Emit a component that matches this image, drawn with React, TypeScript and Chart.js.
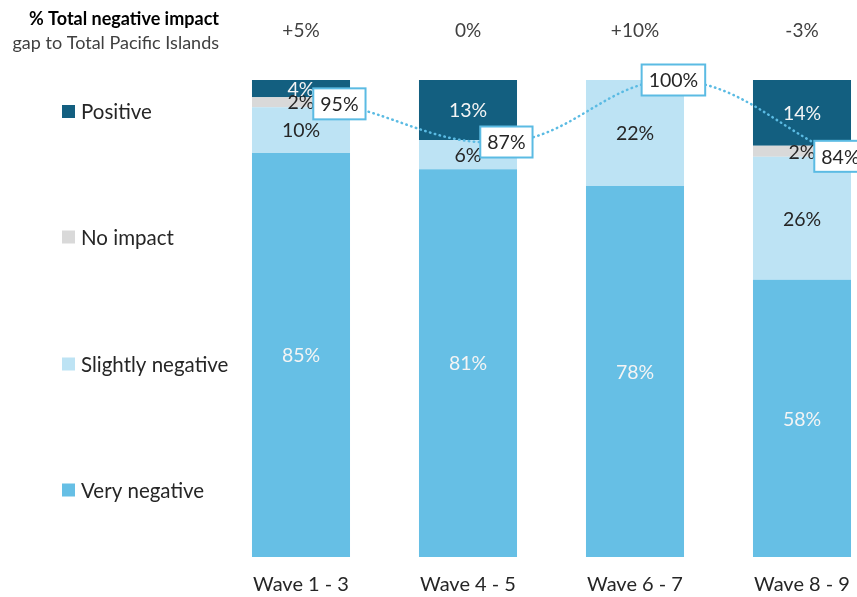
import { useEffect, useRef } from 'react';
import { Chart, registerables } from 'chart.js';

Chart.register(...registerables);

const CATEGORIES = ['Wave 1 - 3', 'Wave 4 - 5', 'Wave 6 - 7', 'Wave 8 - 9'];
const VERY_NEGATIVE = [84.7, 81.3, 77.8, 58.1];
const SLIGHTLY_NEGATIVE = [9.6, 6.1, 22.2, 25.8];
const NO_IMPACT = [2.1, 0, 0, 2.3];
const POSITIVE = [3.6, 12.6, 0, 13.8];
const TOTAL_NEGATIVE = [95, 87, 100, 84];
const GAP_LABELS = ['+5%', '0%', '+10%', '-3%'];
const LEGEND_ITEMS = ['Positive', 'No impact', 'Slightly negative', 'Very negative'];

const C_VERY = '#66bfe5';
const C_SLIGHT = '#bde3f4';
const C_NONE = '#d9d9d9';
const C_POS = '#135f80';
const C_LINE = '#5bbbe3';
const DARK = '#262626';
const LIGHT = '#f4f4f4';
const FONT = 'Lato, "Open Sans", sans-serif';
const LINE_SHIFT = 0.23;

const LEGEND_COLORS: Record<string, string> = {
  'Positive': C_POS,
  'No impact': C_NONE,
  'Slightly negative': C_SLIGHT,
  'Very negative': C_VERY,
};
const LEGEND_Y = [111.5, 237, 364, 490];

const overlayPlugin = {
  id: 'overlay',
  beforeDatasetDraw(chart: any, args: any) {
    if (args.index !== 0) return;
    const ctx = chart.ctx;
    ctx.save();
    ctx.font = `19.5px ${FONT}`;
    ctx.textAlign = 'center';
    ctx.textBaseline = 'middle';
    chart.data.datasets.forEach((ds: any, di: number) => {
      const meta = chart.getDatasetMeta(di);
      if (meta.type !== 'bar') return;
      ctx.fillStyle = ds.labelColor;
      meta.data.forEach((el: any, i: number) => {
        const v = ds.data[i];
        if (!v || v < 1) return;
        ctx.fillText(`${Math.round(v)}%`, el.x, (el.y + el.base) / 2 + 1);
      });
    });
    ctx.restore();
  },
  afterDatasetsDraw(chart: any) {
    const ctx = chart.ctx;
    const lineMeta = chart.getDatasetMeta(0);
    ctx.save();
    ctx.font = `19.5px ${FONT}`;
    ctx.textAlign = 'center';
    ctx.textBaseline = 'middle';
    lineMeta.data.forEach((pt: any, i: number) => {
      const txt = `${TOTAL_NEGATIVE[i]}%`;
      const w = ctx.measureText(txt).width + 14;
      const h = 31;
      ctx.fillStyle = '#ffffff';
      ctx.fillRect(pt.x - w / 2, pt.y - h / 2, w, h);
      ctx.strokeStyle = C_LINE;
      ctx.lineWidth = 2;
      ctx.strokeRect(pt.x - w / 2, pt.y - h / 2, w, h);
      ctx.fillStyle = DARK;
      ctx.fillText(txt, pt.x, pt.y + 1);
    });
    ctx.restore();
  },
  afterDraw(chart: any) {
    const ctx = chart.ctx;
    const xs = chart.scales.x;
    ctx.save();
    // header
    ctx.textAlign = 'right';
    ctx.textBaseline = 'middle';
    ctx.fillStyle = '#000000';
    ctx.font = `bold 18px ${FONT}`;
    ctx.fillText('% Total negative impact', 219, 19);
    ctx.fillStyle = '#404040';
    ctx.font = `18px ${FONT}`;
    ctx.fillText('gap to Total Pacific Islands', 219, 43);
    // gap labels and category labels
    ctx.textAlign = 'center';
    CATEGORIES.forEach((c, i) => {
      const x = xs.getPixelForValue(i);
      ctx.fillStyle = '#404040';
      ctx.font = `19px ${FONT}`;
      ctx.fillText(GAP_LABELS[i], x, 31);
      ctx.fillStyle = DARK;
      ctx.font = `20px ${FONT}`;
      ctx.fillText(c, x, 585);
    });
    // legend
    ctx.textAlign = 'left';
    ctx.font = `20.5px ${FONT}`;
    LEGEND_ITEMS.forEach((name, i) => {
      const y = LEGEND_Y[i];
      ctx.fillStyle = LEGEND_COLORS[name];
      ctx.fillRect(62, y - 6.5, 13, 13);
      ctx.fillStyle = DARK;
      ctx.fillText(name, 81, y + 1);
    });
    ctx.restore();
  },
};

export default function App() {
  const ref = useRef<HTMLCanvasElement | null>(null);
  useEffect(() => {
    if (!ref.current) return;
    const chart = new Chart(ref.current, {
      type: 'bar',
      data: {
        labels: CATEGORIES,
        datasets: [
          {
            type: 'line',
            label: 'Total negative',
            data: TOTAL_NEGATIVE.map((v, i) => ({ x: i + LINE_SHIFT, y: v })),
            xAxisID: 'x2',
            yAxisID: 'y2',
            borderColor: C_LINE,
            borderWidth: 2.5,
            borderDash: [0.5, 4.5],
            borderCapStyle: 'round',
            pointRadius: 0,
            tension: 0.4,
            fill: false,
            clip: false,
            order: 0,
          } as any,
          { label: 'Very negative', data: VERY_NEGATIVE, backgroundColor: C_VERY, order: 1, stack: 'a', labelColor: LIGHT } as any,
          { label: 'Slightly negative', data: SLIGHTLY_NEGATIVE, backgroundColor: C_SLIGHT, order: 1, stack: 'a', labelColor: DARK } as any,
          { label: 'No impact', data: NO_IMPACT, backgroundColor: C_NONE, order: 1, stack: 'a', labelColor: DARK } as any,
          { label: 'Positive', data: POSITIVE, backgroundColor: C_POS, order: 1, stack: 'a', labelColor: LIGHT } as any,
        ],
      },
      options: {
        responsive: false,
        animation: false,
        devicePixelRatio: 1,
        layout: { padding: { left: 217.5, right: 14.5, top: 80, bottom: 40 } },
        plugins: { legend: { display: false }, tooltip: { enabled: false } },
        datasets: { bar: { barPercentage: 0.587, categoryPercentage: 1, grouped: false } },
        scales: {
          x: { display: false, stacked: true, offset: true },
          y: { display: false, stacked: true, min: 0, max: 100 },
          x2: { type: 'linear', display: false, min: -0.5, max: 3.5, offset: false, grace: 0 },
          y2: { type: 'linear', display: false, min: 0, max: 100 },
        },
      } as any,
      plugins: [overlayPlugin],
    });
    return () => chart.destroy();
  }, []);
  return (
    <div style={{ position: 'fixed', left: 0, top: 0, width: 857, height: 597, overflow: 'hidden', background: '#fff' }}>
      <canvas ref={ref} width={900} height={597} style={{ display: 'block', width: 900, height: 597 }} />
    </div>
  );
}
